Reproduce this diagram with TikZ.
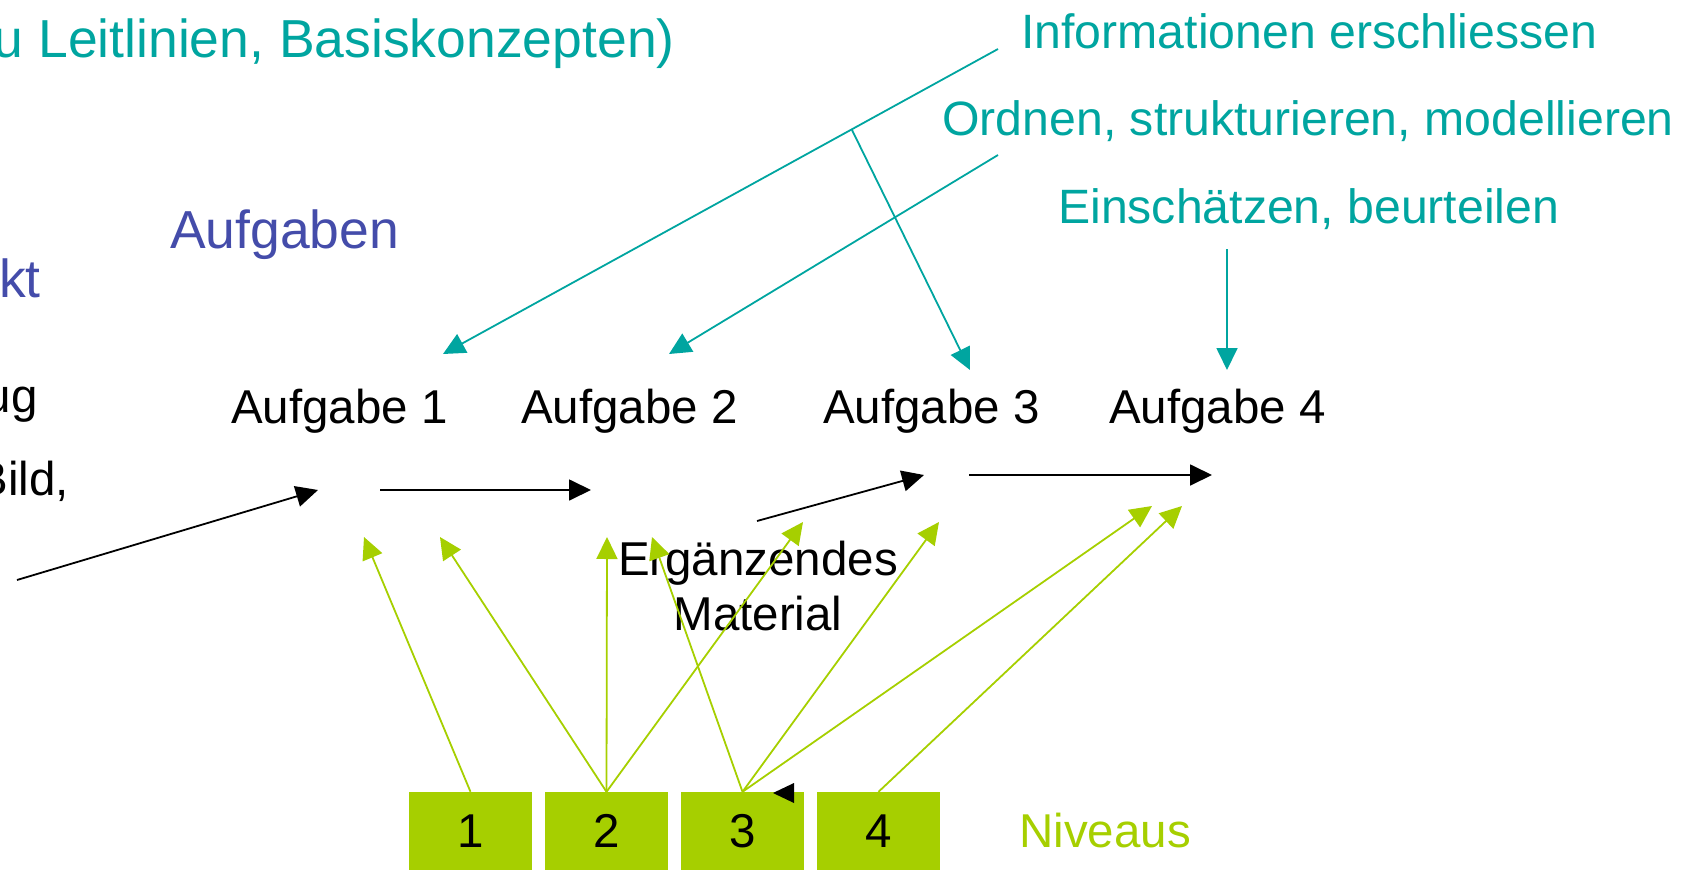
\documentclass[tikz,border=0pt]{standalone}
\usepackage{fontspec}
\setmainfont{Liberation Sans}
\usetikzlibrary{arrows.meta}
\definecolor{tealc}{RGB}{0,165,160}
\definecolor{limec}{RGB}{166,207,0}
\definecolor{bluec}{RGB}{68,76,170}
\tikzset{
  txt/.style={inner sep=0pt, font=\fontsize{47.5}{57}\selectfont},
  tealtxt/.style={inner sep=0pt, text=tealc, font=\fontsize{48.2}{58}\selectfont},
  bigtxt/.style={inner sep=0pt, font=\fontsize{53.5}{64}\selectfont},
  arr/.style={line width=1.8pt, -{Triangle[length=22pt,width=21pt]}},
  blackarr/.style={arr, draw=black},
  tealarr/.style={arr, draw=tealc},
  limearr/.style={arr, draw=limec},
  levelbox/.style={rectangle, fill=limec, minimum width=123pt, minimum height=78pt,
    inner sep=0pt, text=black, font=\fontsize{47.5}{57}\selectfont}
}
\begin{document}
\begin{tikzpicture}[x=1pt,y=-1pt]
\useasboundingbox (0,0) rectangle (1701,870);

% header and teal labels
\node[bigtxt, text=tealc, anchor=base east] (head) at (675,57) {u Leitlinien, Basiskonzepten)};
\node[tealtxt, anchor=base west] (info) at (1021,48) {Informationen erschliessen};
\node[tealtxt, anchor=base east] (ordn) at (1674,135) {Ordnen, strukturieren, modellieren};
\node[tealtxt, anchor=base west] (eins) at (1058,223) {Einschätzen, beurteilen};

% blue labels
\node[bigtxt, text=bluec, anchor=base west] (aufg) at (170,248) {Aufgaben};
\node[bigtxt, text=bluec, anchor=base east] (kt) at (41,297) {kt};

% left cut-off black text
\node[txt, anchor=base east] (ug) at (38,412) {ug};
\node[txt, anchor=base east] (bild) at (69,495) {Bild,};

% tasks
\node[txt, anchor=base west] (a1) at (231,423) {Aufgabe 1};
\node[txt, anchor=base west] (a2) at (521,423) {Aufgabe 2};
\node[txt, anchor=base west] (a3) at (823,423) {Aufgabe 3};
\node[txt, anchor=base west] (a4) at (1109,423) {Aufgabe 4};

% supplementary material
\node[txt, anchor=base] (erg) at (758,575) {Ergänzendes};
\node[txt, anchor=base] (mat) at (758,630) {Material};

% level boxes
\node[levelbox] (n1) at (470.5,831) {1};
\node[levelbox] (n2) at (606.5,831) {2};
\node[levelbox] (n3) at (742.5,831) {3};
\node[levelbox] (n4) at (878.5,831) {4};
\node[txt, text=limec, anchor=base west] (niv) at (1019,847) {Niveaus};

% coordinates for black arrows
\coordinate (b1s) at (17,580);  \coordinate (b1e) at (318,490);
\coordinate (b2s) at (380,490); \coordinate (b2e) at (591,490);
\coordinate (b3s) at (757,521); \coordinate (b3e) at (924,475);
\coordinate (b4s) at (969,475); \coordinate (b4e) at (1212,475);
\draw[blackarr] (b1s) -- (b1e);
\draw[blackarr] (b2s) -- (b2e);
\draw[blackarr] (b3s) -- (b3e);
\draw[blackarr] (b4s) -- (b4e);
\fill[black] (773,793) -- (794,783) -- (794,803) -- cycle;

% teal arrows
\coordinate (t1s) at (998,49);   \coordinate (t1e) at (443,354);
\coordinate (t2s) at (998,155);  \coordinate (t2e) at (669,354);
\coordinate (t3s) at (852,130);  \coordinate (t3e) at (970,370);
\coordinate (t4s) at (1227,249); \coordinate (t4e) at (1227,370);
\draw[tealarr] (t1s) -- (t1e);
\draw[tealarr] (t2s) -- (t2e);
\draw[tealarr] (t3s) -- (t3e);
\draw[tealarr] (t4s) -- (t4e);

% green arrows
\coordinate (g11) at (364,537);
\coordinate (g21) at (440,537);
\coordinate (g22) at (607,537);
\coordinate (g23) at (803,522);
\coordinate (g31) at (652,537);
\coordinate (g32) at (939,522);
\coordinate (g33) at (1152,506);
\coordinate (g41) at (1182,506);
\draw[limearr] (n1.north) -- (g11);
\draw[limearr] (n2.north) -- (g21);
\draw[limearr] (n2.north) -- (g22);
\draw[limearr] (n2.north) -- (g23);
\draw[limearr] (n3.north) -- (g31);
\draw[limearr] (n3.north) -- (g32);
\draw[limearr] (n3.north) -- (g33);
\draw[limearr] (n4.north) -- (g41);
\end{tikzpicture}
\end{document}
